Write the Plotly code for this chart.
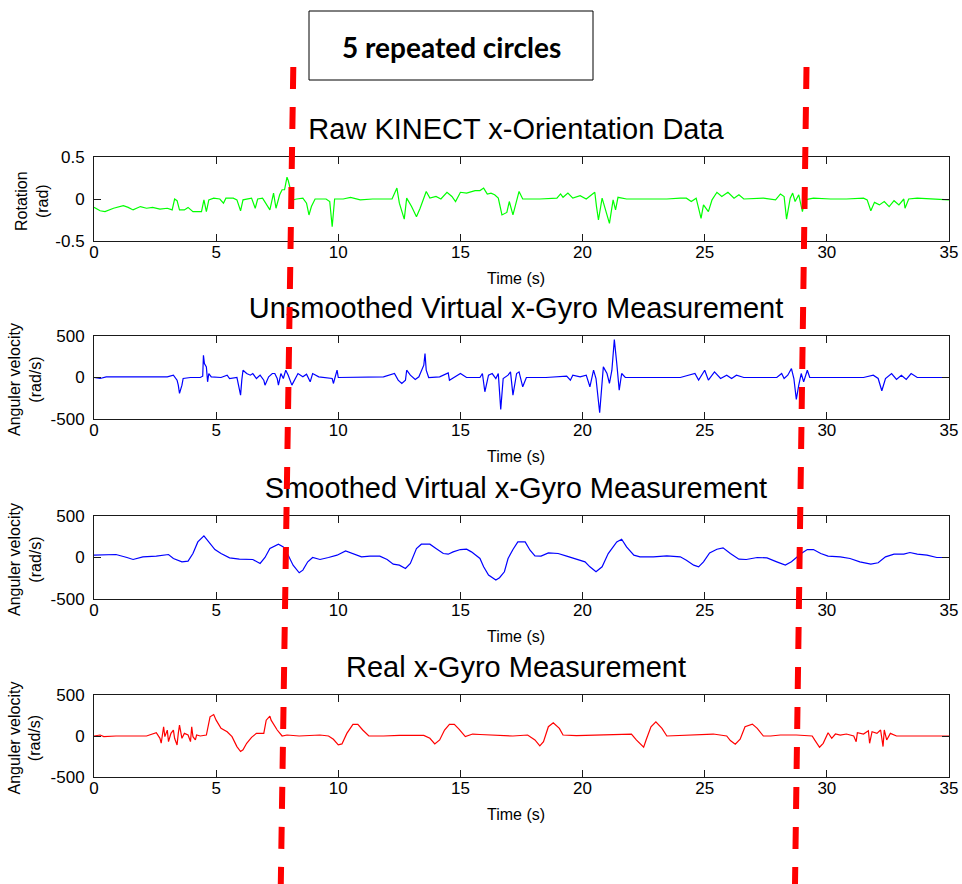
import plotly.graph_objects as go

W, H = 962, 884

# ---------------- data ----------------
raw_t = [0, 0.25, 0.45, 0.8, 1.2, 1.4, 1.6, 1.9, 2.15, 2.4, 2.7, 3.0, 3.2, 3.3, 3.4, 3.5, 3.7, 3.85,
         4.05, 4.4, 4.5, 4.6, 4.7, 4.9, 5.15, 5.3, 5.4, 5.7, 5.85, 6.0, 6.1, 6.45, 6.6, 6.7, 6.9,
         7.2, 7.35, 7.45, 7.6, 7.7, 7.8, 7.9, 7.95, 8.15, 8.3, 8.55, 8.7, 8.8, 8.9, 9.05, 9.5, 9.65,
         9.75, 9.85, 10.2, 10.5, 10.9, 11.4, 11.85, 12.2, 12.4, 12.5, 12.7, 12.8, 13.0, 13.2, 13.35,
         13.6, 13.75, 14.0, 14.2, 14.45, 14.65, 14.8, 15.0, 15.25, 15.6, 15.8, 15.95, 16.1, 16.25,
         16.4, 16.55, 16.7, 16.9, 17.0, 17.15, 17.25, 17.4, 17.55, 18.25, 18.95, 19.1, 19.2, 19.4,
         19.6, 19.9, 20.15, 20.35, 20.5, 20.57, 20.65, 20.8, 20.9, 21.1, 21.25, 21.35, 21.45, 21.8,
         22.6, 23.45, 24.0, 24.25, 24.45, 24.65, 24.85, 24.95, 25.15, 25.3, 25.5, 25.7, 25.95, 26.2,
         26.4, 26.6, 27.4, 27.9, 28.1, 28.25, 28.35, 28.5, 28.6, 28.7, 28.85, 29.0, 29.1, 29.45,
         30.15, 30.8, 31.5, 31.65, 31.8, 31.95, 32.15, 32.35, 32.55, 32.75, 32.95, 33.15, 33.2,
         33.35, 33.7, 34.25, 35.0]
raw_v = [-0.10, -0.14, -0.15, -0.11, -0.08, -0.10, -0.13, -0.09, -0.11, -0.10, -0.12, -0.11, -0.13,
         0.0, -0.02, -0.13, -0.13, -0.10, -0.15, -0.15, -0.01, -0.15, -0.01, 0.01, 0.0, -0.05, 0.01,
         0.01, -0.01, -0.14, -0.01, 0.01, -0.11, 0.0, 0.01, -0.13, 0.07, -0.11, 0.05, 0.11, 0.11,
         0.26, 0.22, -0.01, 0.0, 0.01, -0.05, -0.19, -0.09, 0.0, 0.0, -0.03, -0.33, 0.0, 0.0, 0.02,
         -0.01, 0.0, 0.0, 0.0, 0.13, -0.05, -0.24, 0.01, -0.09, -0.21, -0.11, 0.09, 0.01, 0.03, 0.0,
         0.08, 0.03, -0.03, 0.08, 0.07, 0.10, 0.10, 0.13, 0.06, 0.07, 0.05, 0.01, -0.19, -0.16,
         -0.03, -0.19, -0.07, 0.09, 0.0, 0.0, 0.01, 0.06, 0.02, 0.07, 0.01, 0.04, 0.0, 0.04, 0.08,
         -0.09, -0.25, 0.01, -0.09, -0.29, -0.01, -0.13, 0.02, 0.0, 0.0, 0.0, 0.01, 0.01, -0.03,
         0.01, -0.23, -0.07, -0.15, -0.01, 0.08, 0.03, 0.08, 0.01, 0.05, 0.0, 0.01, -0.01, 0.06,
         0.03, -0.24, 0.01, 0.07, -0.03, 0.05, -0.15, -0.01, 0.01, 0.0, 0.0, 0.01, -0.01, -0.14,
         -0.04, -0.07, -0.03, -0.09, -0.02, -0.07, 0.0, -0.11, 0.0, 0.01, 0.0, -0.01]

unsm_t = [0, 0.25, 0.5, 1.05, 1.6, 2.3, 3.0, 3.25, 3.4, 3.45, 3.5, 3.6, 3.65, 3.95, 4.35, 4.45, 4.48,
          4.52, 4.6, 4.65, 4.7, 4.8, 5.0, 5.2, 5.45, 5.55, 5.85, 5.9, 6.0, 6.05, 6.1, 6.25, 6.4, 6.5,
          6.65, 6.8, 6.95, 7.0, 7.15, 7.3, 7.4, 7.5, 7.55, 7.65, 7.75, 7.85, 7.95, 8.1, 8.25, 8.35,
          8.55, 8.7, 8.85, 8.95, 9.2, 9.45, 9.75, 9.8, 9.95, 10.0, 10.5, 11.15, 11.85, 12.3, 12.45,
          12.6, 12.75, 12.8, 12.95, 13.15, 13.3, 13.5, 13.55, 13.6, 13.7, 14.15, 14.5, 14.55, 14.75,
          15.0, 15.25, 15.8, 15.9, 16.0, 16.15, 16.3, 16.45, 16.55, 16.65, 16.75, 16.95, 17.05,
          17.15, 17.3, 17.4, 17.55, 17.7, 18.5, 19.35, 19.5, 19.6, 19.9, 20.15, 20.3, 20.45, 20.55,
          20.7, 20.8, 20.85, 21.0, 21.1, 21.2, 21.25, 21.3, 21.4, 21.5, 21.6, 21.75, 22.6, 24.0,
          24.6, 24.75, 25.0, 25.15, 25.4, 25.65, 25.9, 26.1, 26.3, 26.6, 27.4, 27.95, 28.15, 28.25,
          28.4, 28.55, 28.65, 28.75, 28.85, 28.95, 29.05, 29.2, 29.3, 30.15, 31.5, 31.9, 32.1,
          32.25, 32.4, 32.65, 32.85, 33.05, 33.25, 33.45, 33.7, 35.0]
unsm_v = [0, -12, 8, 8, 0, 8, 8, 28, -32, -92, -192, -92, -12, 0, 0, 16, 268, 168, 128, -52, 48, 8,
          0, 0, 28, -12, 0, -72, -212, -32, 88, 48, 28, 48, -12, 28, -32, -92, 8, 48, 48, -12, -92,
          48, -12, 88, 28, -92, -12, 48, 8, 40, -52, 48, 8, 0, -12, -72, 88, 0, 0, 0, 8, 48, -32,
          -72, -32, 88, 28, -24, 8, 148, 288, 88, 0, 8, 56, -32, 0, 48, 0, 0, 48, -172, 28, 48, -12,
          48, -384, -12, 28, 68, -212, 48, 68, -112, 0, 0, 16, -32, 28, 8, 28, -112, 88, -12, -424,
          -52, 128, 48, -72, 88, 328, 456, 168, -152, 48, 0, 0, 0, 48, -32, 88, -32, 68, -12, 28,
          -12, 28, 0, 0, 0, 48, -12, 28, 108, -12, -264, -92, 48, -52, 88, 0, 0, 0, 28, -12, -160,
          -12, 48, -24, 28, -24, 48, 0, 0]

smooth_t = [0, 0.9, 1.35, 1.6, 2.0, 2.55, 3.05, 3.25, 3.6, 3.85, 4.05, 4.25, 4.5, 4.7, 4.95, 5.2,
            5.55, 5.95, 6.5, 6.8, 7.0, 7.2, 7.55, 7.75, 7.95, 8.15, 8.4, 8.55, 8.75, 8.95, 9.25,
            9.6, 9.95, 10.3, 10.6, 10.95, 11.3, 11.7, 12.0, 12.25, 12.5, 12.75, 12.95, 13.2, 13.4,
            13.75, 14.0, 14.3, 14.5, 14.7, 15.0, 15.25, 15.45, 15.8, 15.95, 16.15, 16.45, 16.6,
            16.8, 16.95, 17.15, 17.35, 17.65, 17.85, 18.05, 18.3, 18.6, 19.0, 19.35, 19.75, 20.1,
            20.3, 20.55, 20.8, 21.05, 21.4, 21.6, 21.8, 22.1, 22.35, 22.9, 23.45, 24.0, 24.25,
            24.55, 24.75, 24.95, 25.2, 25.5, 25.75, 26.05, 26.4, 26.7, 27.15, 27.55, 27.95, 28.3,
            28.55, 28.75, 28.95, 29.2, 29.45, 29.75, 30.05, 30.55, 30.95, 31.35, 31.8, 32.1, 32.4,
            32.75, 33.15, 33.4, 33.7, 34.1, 34.5, 35.0]
smooth_v = [28, 36, 0, -24, 8, 16, 36, -12, -52, -44, 48, 188, 260, 188, 96, 48, -4, -20, -24, -72,
            0, 108, 160, 128, 28, -92, -184, -152, -52, 0, -24, 0, 28, 80, 48, 8, 16, 16, -24, -80,
            -92, -132, -72, 108, 160, 160, 108, 48, 40, 68, 96, 100, 68, -12, -112, -212, -272, -244,
            -172, -12, 96, 188, 188, 88, 20, 16, 56, 48, 16, -24, -52, -112, -172, -112, 48, 188,
            220, 128, 28, 8, 8, 20, 8, -32, -92, -112, -52, 56, 100, 116, 48, -20, -24, 0, -4, -52,
            -92, -52, 0, 48, 96, 96, 48, 16, 8, -12, -52, -80, -64, 8, 40, 40, 60, 40, 28, 0, 0]

real_t = [0, 0.25, 0.4, 0.9, 2.15, 2.45, 2.55, 2.7, 2.75, 2.85, 2.9, 3.0, 3.05, 3.15, 3.25, 3.3,
          3.4, 3.45, 3.5, 3.6, 3.7, 3.85, 3.95, 4.0, 4.05, 4.15, 4.2, 4.35, 4.6, 4.75, 4.9, 5.0,
          5.2, 5.45, 5.65, 5.85, 6.0, 6.1, 6.25, 6.45, 6.65, 6.95, 7.05, 7.2, 7.25, 7.5, 7.7, 7.9,
          8.4, 9.25, 9.6, 9.8, 10.0, 10.15, 10.35, 10.6, 10.8, 11.0, 11.25, 11.85, 12.5, 13.5,
          13.75, 13.95, 14.15, 14.35, 14.55, 14.75, 14.95, 15.2, 15.5, 15.8, 16.35, 17.15, 17.75,
          18.05, 18.25, 18.4, 18.6, 18.8, 19.05, 19.2, 19.75, 20.55, 21.25, 22.0, 22.2, 22.5, 22.6,
          22.8, 23.0, 23.25, 23.45, 24.25, 25.35, 25.9, 26.05, 26.25, 26.45, 26.65, 26.95, 27.15,
          27.4, 27.7, 28.1, 28.75, 29.4, 29.5, 29.7, 29.85, 30.05, 30.2, 30.35, 30.55, 30.8, 31.1,
          31.2, 31.25, 31.5, 31.7, 31.75, 31.85, 32.05, 32.2, 32.3, 32.35, 32.45, 32.6, 32.85,
          33.4, 34.9, 35.0]
real_v = [0, 12, -8, 0, 0, 24, 40, -28, -88, 113, -8, 72, -68, 32, 72, -28, -109, 32, 133, -28, 32,
          12, -68, 113, -8, -48, 12, 0, 12, 234, 262, 193, 93, 52, -8, -129, -189, -169, -89, -16,
          32, 32, 193, 242, 193, 73, 0, 12, 0, 12, 0, -40, -109, -97, 32, 141, 141, 73, 0, 0, 8, 8,
          -28, -97, -48, 73, 141, 141, 81, -8, 24, 18, 12, 0, 12, -48, -121, -69, 113, 161, 93, 12,
          4, 8, 12, 24, -48, -137, -48, 113, 173, 93, 0, 12, 24, 0, -56, -101, -40, 113, 145, 93, 0,
          0, 12, 12, 0, -48, -137, -89, 40, -28, 24, 12, 24, 0, -69, 40, 24, 64, -89, 52, 32, 73,
          -129, 73, -48, 32, 0, 0, 0, 0]

x_ticks = [0, 5, 10, 15, 20, 25, 30, 35]
x_ticktext = ["0", "5", "10", "15", "20", "25", "30", "35"]
rot_ticks = [-0.5, 0, 0.5]
rot_ticktext = ["-0.5", "0", "0.5"]
vel_ticks = [-500, 0, 500]
vel_ticktext = ["-500", "0", "500"]

panel_titles = ["Raw KINECT x-Orientation Data",
                "Unsmoothed Virtual x-Gyro Measurement",
                "Smoothed Virtual x-Gyro Measurement",
                "Real x-Gyro Measurement"]
panel_ylabels = ["Rotation<br>(rad)", "Anguler velocity<br>(rad/s)",
                 "Anguler velocity<br>(rad/s)", "Anguler velocity<br>(rad/s)"]
x_label = "Time (s)"
box_title = "5 repeated circles"

series = [(raw_t, raw_v, "#00ff00", [-0.5, 0.5], rot_ticks, rot_ticktext),
          (unsm_t, unsm_v, "#0000ff", [-500, 500], vel_ticks, vel_ticktext),
          (smooth_t, smooth_v, "#0000ff", [-500, 500], vel_ticks, vel_ticktext),
          (real_t, real_v, "#ff0000", [-500, 500], vel_ticks, vel_ticktext)]

# ---------------- layout geometry (pixels) ----------------
PX_L, PX_R = 94, 949
tops = [157, 336, 516, 695]
bottoms = [241, 419, 599, 777]
ylab_x = [32, 24.5, 24.5, 24.5]
FONT = "Liberation Sans, Arial, Helvetica, sans-serif"


def px(x):
    return x / W


def py(y):
    return 1 - y / H


fig = go.Figure()
layout = dict(width=W, height=H, autosize=False,
              margin=dict(l=0, r=0, t=0, b=0, pad=0, autoexpand=False),
              paper_bgcolor="white", plot_bgcolor="rgba(0,0,0,0)", showlegend=False,
              font=dict(family=FONT, size=16, color="black"))
annotations = []
shapes = []

for i, (t, v, col, yr, yt, ytt) in enumerate(series):
    n = "" if i == 0 else str(i + 1)
    fig.add_trace(go.Scatter(x=t, y=v, mode="lines", line=dict(color=col, width=1.2),
                             xaxis="x" + n, yaxis="y" + n, hoverinfo="skip"))
    common = dict(showline=True, linecolor="#1a1a1a", linewidth=1, mirror="ticks",
                  ticks="inside", ticklen=7, tickcolor="#1a1a1a", tickwidth=1,
                  showgrid=False, zeroline=False, automargin=False,
                  tickfont=dict(family=FONT, size=17))
    layout["xaxis" + n] = dict(domain=[px(PX_L), px(PX_R)], anchor="y" + n, range=[0, 35],
                               tickmode="array", tickvals=x_ticks, ticktext=x_ticktext,
                               ticklabelstandoff=-4, **common)
    layout["yaxis" + n] = dict(domain=[py(bottoms[i]), py(tops[i])], anchor="x" + n, range=yr,
                               tickmode="array", tickvals=yt, ticktext=ytt,
                               ticklabelstandoff=5, **common)
    annotations.append(dict(text=x_label, xref="paper", yref="paper",
                            x=px(516), y=py(bottoms[i] + 37), xanchor="center", yanchor="middle",
                            showarrow=False, font=dict(family=FONT, size=16)))
    annotations.append(dict(text=panel_ylabels[i], xref="paper", yref="paper",
                            x=px(ylab_x[i]), y=py((tops[i] + bottoms[i]) / 2 + 2),
                            xanchor="center", yanchor="middle", textangle=-90,
                            showarrow=False, font=dict(family=FONT, size=16)))

# panel titles as text on a full-page overlay axis (so the red dashes can sit on top)
fig.add_trace(go.Scatter(x=[516] * 4, y=[tp - 25 for tp in tops], text=panel_titles,
                         mode="text", textposition="middle center",
                         textfont=dict(family=FONT, size=29, color="black"),
                         xaxis="x5", yaxis="y5", hoverinfo="skip"))
layout["xaxis5"] = dict(domain=[0, 1], range=[0, W], visible=False, anchor="y5", fixedrange=True)
layout["yaxis5"] = dict(domain=[0, 1], range=[H, 0], visible=False, anchor="x5", fixedrange=True)

# title box
shapes.append(dict(type="rect", xref="paper", yref="paper", x0=px(309), x1=px(593),
                   y0=py(80), y1=py(11), line=dict(color="black", width=1),
                   fillcolor="white", layer="above"))
annotations.append(dict(text="<b>" + box_title + "</b>", xref="paper", yref="paper",
                        x=px(451), y=py(47), xanchor="center", yanchor="middle",
                        showarrow=False, font=dict(family="Lato, Open Sans, sans-serif",
                                                   size=28, color="black")))

# red dashed markers
for (x_top, x_bot) in [(293.3, 280.8), (806.5, 795)]:
    shapes.append(dict(type="line", xref="paper", yref="paper",
                       x0=px(x_top), y0=py(67), x1=px(x_bot), y1=py(884),
                       line=dict(color="#ff0000", width=6, dash="22px,18px"), layer="above"))

layout["annotations"] = annotations
layout["shapes"] = shapes
fig.update_layout(**layout)
fig.write_html("out.html", config={"displayModeBar": False, "staticPlot": True},
               post_script="document.body.style.margin='0px';"
                           "document.body.style.overflow='hidden';")
